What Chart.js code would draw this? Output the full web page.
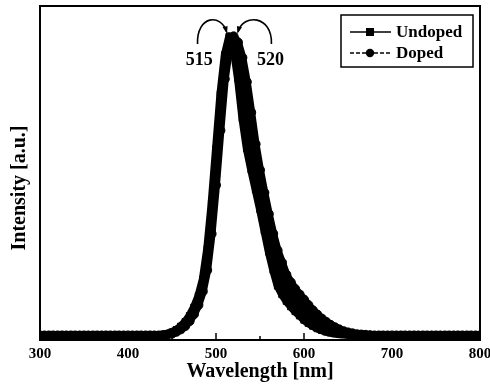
<!DOCTYPE html>
<html>
<head>
<meta charset="utf-8">
<script src="https://cdn.jsdelivr.net/npm/chart.js@4.4.1/dist/chart.umd.min.js"></script>
<style>
  html, body { margin: 0; padding: 0; background: #fff; }
  #wrap { width: 490px; height: 384px; }
</style>
</head>
<body>
<div id="wrap"><canvas id="specChart" width="490" height="384"></canvas></div>
<script>
// wavelength grid (nm)
const wavelengths = [
  300, 305, 310, 315, 320, 325, 330, 335, 340, 345,
  350, 355, 360, 365, 370, 375, 380, 385, 390, 395,
  400, 405, 410, 415, 420, 425, 430, 435, 440, 445,
  450, 455, 460, 465, 470, 475, 480, 485, 490, 495,
  500, 505, 510, 515, 520, 525, 530, 535, 540, 545,
  550, 555, 560, 565, 570, 575, 580, 585, 590, 595,
  600, 605, 610, 615, 620, 625, 630, 635, 640, 645,
  650, 655, 660, 665, 670, 675, 680, 685, 690, 695,
  700, 705, 710, 715, 720, 725, 730, 735, 740, 745,
  750, 755, 760, 765, 770, 775, 780, 785, 790, 795,
  800
];

// normalized EL intensity
const undoped = [
  0.015, 0.015, 0.015, 0.015, 0.015, 0.015, 0.015, 0.015, 0.015, 0.015,
  0.015, 0.015, 0.015, 0.015, 0.015, 0.015, 0.015, 0.015, 0.015, 0.015,
  0.015, 0.015, 0.015, 0.015, 0.015, 0.015, 0.015, 0.016, 0.018, 0.021,
  0.026, 0.034, 0.045, 0.06, 0.08, 0.108, 0.145, 0.20, 0.30, 0.45,
  0.63, 0.81, 0.94, 1.00, 0.96, 0.86, 0.73, 0.63, 0.56, 0.495,
  0.43, 0.36, 0.29, 0.23, 0.178, 0.15, 0.128, 0.11, 0.094, 0.08,
  0.066, 0.055, 0.046, 0.038, 0.032, 0.027, 0.024, 0.021, 0.019, 0.018,
  0.017, 0.016, 0.015, 0.015, 0.015, 0.015, 0.015, 0.015, 0.015, 0.015,
  0.015, 0.015, 0.015, 0.015, 0.015, 0.015, 0.015, 0.015, 0.015, 0.015,
  0.015, 0.015, 0.015, 0.015, 0.015, 0.015, 0.015, 0.015, 0.015, 0.015,
  0.015
];

const doped = [
  0.015, 0.015, 0.015, 0.015, 0.015, 0.015, 0.015, 0.015, 0.015, 0.015,
  0.015, 0.015, 0.015, 0.015, 0.015, 0.015, 0.015, 0.015, 0.015, 0.015,
  0.015, 0.015, 0.015, 0.015, 0.015, 0.015, 0.015, 0.015, 0.016, 0.018,
  0.021, 0.027, 0.035, 0.046, 0.062, 0.085, 0.115, 0.16, 0.23, 0.35,
  0.51, 0.69, 0.86, 0.96, 1.00, 0.98, 0.93, 0.85, 0.75, 0.645,
  0.56, 0.485, 0.415, 0.35, 0.295, 0.255, 0.215, 0.19, 0.168, 0.15,
  0.133, 0.115, 0.098, 0.084, 0.071, 0.06, 0.05, 0.042, 0.035, 0.029,
  0.025, 0.022, 0.019, 0.018, 0.017, 0.016, 0.015, 0.015, 0.015, 0.015,
  0.015, 0.015, 0.015, 0.015, 0.015, 0.015, 0.015, 0.015, 0.015, 0.015,
  0.015, 0.015, 0.015, 0.015, 0.015, 0.015, 0.015, 0.015, 0.015, 0.015,
  0.015
];

const seriesNames = ['Undoped', 'Doped'];
const peakLabels = ['515', '520'];
const xMin = 300, xMax = 800, xStep = 100, minorStep = 50;

const serif = '"Liberation Serif", "Times New Roman", serif';

function toPoints(vals) {
  return wavelengths.map((w, i) => ({ x: w, y: vals[i] }));
}

// curved arrow from (x0,y0) to (x1,y1) with a filled head
function curvedArrow(ctx, x0, y0, c1x, c1y, c2x, c2y, x1, y1) {
  ctx.beginPath();
  ctx.moveTo(x0, y0);
  ctx.bezierCurveTo(c1x, c1y, c2x, c2y, x1, y1);
  ctx.stroke();
  const ang = Math.atan2(y1 - c2y, x1 - c2x);
  const len = 6;
  ctx.beginPath();
  ctx.moveTo(x1 + Math.cos(ang) * 2, y1 + Math.sin(ang) * 2);
  ctx.lineTo(x1 - Math.cos(ang - 0.45) * len, y1 - Math.sin(ang - 0.45) * len);
  ctx.lineTo(x1 - Math.cos(ang + 0.45) * len, y1 - Math.sin(ang + 0.45) * len);
  ctx.closePath();
  ctx.fill();
}

const extrasPlugin = {
  id: 'extras',
  beforeDatasetsDraw(chart) {
    // small inward ticks on the bottom axis
    const { ctx, chartArea: a, scales: { x } } = chart;
    ctx.save();
    ctx.strokeStyle = '#000';
    ctx.lineWidth = 1.5;
    for (let w = xMin + minorStep; w < xMax; w += minorStep) {
      const px = x.getPixelForValue(w);
      ctx.beginPath();
      ctx.moveTo(px, a.bottom);
      ctx.lineTo(px, a.bottom - (w % xStep === 0 ? 7 : 4));
      ctx.stroke();
    }
    ctx.restore();
  },
  afterDraw(chart) {
    const { ctx, chartArea: a, scales: { x, y } } = chart;
    ctx.save();
    ctx.strokeStyle = '#000';
    ctx.fillStyle = '#000';

    // plot frame
    ctx.lineWidth = 2;
    ctx.strokeRect(a.left, a.top, a.right - a.left, a.bottom - a.top);

    // peak position notes with arrows
    ctx.lineWidth = 1.6;
    const lx = x.getPixelForValue(479), rx = x.getPixelForValue(563);
    const ly = y.getPixelForValue(0.975);
    const topY = y.getPixelForValue(1.05);
    const tipY = y.getPixelForValue(1.015);
    curvedArrow(ctx, lx, ly, lx - 1, topY - 6, x.getPixelForValue(506), topY - 8,
      x.getPixelForValue(512), tipY);
    curvedArrow(ctx, rx, ly, rx + 1, topY - 6, x.getPixelForValue(531), topY - 8,
      x.getPixelForValue(525), tipY);

    ctx.font = 'bold 18px ' + serif;
    ctx.textAlign = 'center';
    ctx.textBaseline = 'middle';
    const noteY = y.getPixelForValue(0.92);
    ctx.fillText(peakLabels[0], x.getPixelForValue(481), noteY);
    ctx.fillText(peakLabels[1], x.getPixelForValue(562), noteY);

    // legend box
    const bw = 132, bh = 52;
    const bx = a.right - 7 - bw, by = a.top + 9;
    ctx.fillStyle = '#fff';
    ctx.fillRect(bx, by, bw, bh);
    ctx.fillStyle = '#000';
    ctx.lineWidth = 1.5;
    ctx.strokeRect(bx, by, bw, bh);

    ctx.font = 'bold 17px ' + serif;
    ctx.textAlign = 'left';
    const rows = [by + 17, by + 38];
    rows.forEach((ry, i) => {
      ctx.lineWidth = 1.5;
      ctx.setLineDash(i === 1 ? [4, 2] : []);
      ctx.beginPath();
      ctx.moveTo(bx + 9, ry);
      ctx.lineTo(bx + 50, ry);
      ctx.stroke();
      ctx.setLineDash([]);
      const mx = bx + 29;
      if (i === 0) {
        ctx.fillRect(mx - 4, ry - 4, 8, 8);
      } else {
        ctx.beginPath();
        ctx.arc(mx, ry, 4.2, 0, Math.PI * 2);
        ctx.fill();
      }
      ctx.fillText(seriesNames[i], bx + 55, ry + 1);
    });

    ctx.restore();
  }
};

function seriesStyle(name, vals, marker) {
  return {
    label: name,
    data: toPoints(vals),
    borderColor: '#000',
    backgroundColor: '#000',
    borderWidth: 8,
    borderJoinStyle: 'round',
    borderCapStyle: 'round',
    pointStyle: marker,
    pointRadius: 4.5,
    pointBorderWidth: 1,
    pointBackgroundColor: '#000',
    pointBorderColor: '#000',
    tension: 0,
    fill: false
  };
}

const dopedSet = seriesStyle(seriesNames[1], doped, 'circle');
dopedSet.fill = '-1'; // the scanned curves merge into one solid band

const specChart = new Chart(document.getElementById('specChart'), {
  type: 'line',
  data: {
    datasets: [
      seriesStyle(seriesNames[0], undoped, 'rect'),
      dopedSet
    ]
  },
  options: {
    responsive: false,
    animation: false,
    layout: { padding: { top: 6, right: 10, left: 0, bottom: 0 } },
    plugins: {
      legend: { display: false },
      tooltip: { enabled: false }
    },
    scales: {
      x: {
        type: 'linear',
        min: xMin,
        max: xMax,
        ticks: {
          stepSize: xStep,
          color: '#000',
          padding: 5,
          font: { family: serif, size: 15, weight: 'bold' }
        },
        grid: { display: false, drawTicks: false },
        border: { display: true, color: '#000', width: 2 },
        title: {
          display: true,
          text: 'Wavelength [nm]',
          color: '#000',
          padding: { top: 0, bottom: 0 },
          font: { family: serif, size: 20, weight: 'bold' }
        },
        afterFit(scale) {
          scale.height = 44;
          scale.paddingLeft = 0;
          scale.paddingRight = 0;
        }
      },
      y: {
        min: 0,
        max: 1.1,
        ticks: { display: false },
        grid: { display: false, drawTicks: false },
        border: { display: true, color: '#000', width: 2 },
        title: {
          display: true,
          text: 'Intensity [a.u.]      ',
          color: '#000',
          padding: { top: 8, bottom: 0 },
          font: { family: serif, size: 20, weight: 'bold' }
        },
        afterFit(scale) { scale.width = 40; }
      }
    }
  },
  plugins: [extrasPlugin]
});
</script>
</body>
</html>
